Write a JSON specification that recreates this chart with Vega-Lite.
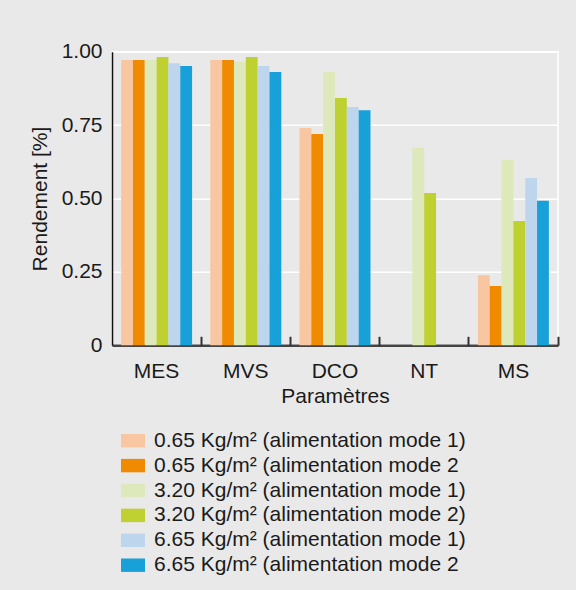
{
  "$schema": "https://vega.github.io/schema/vega-lite/v6.json",
  "autosize": "none",
  "width": 446,
  "height": 293.6,
  "padding": {"left": 112, "top": 51.7, "right": 18, "bottom": 244.7},
  "background": "#e9e9e9",
  "config": {
    "font": "Liberation Sans",
    "view": {"stroke": "#ffffff", "strokeWidth": 1.5, "fill": "#e9e9e9"}
  },
  "data": {
    "values": [
      {"param": "MES", "serie": "0.65 Kg/m² (alimentation mode 1)", "rendement": 0.972},
      {"param": "MES", "serie": "0.65 Kg/m² (alimentation mode 2", "rendement": 0.972},
      {"param": "MES", "serie": "3.20 Kg/m² (alimentation mode 1)", "rendement": 0.972},
      {"param": "MES", "serie": "3.20 Kg/m² (alimentation mode 2)", "rendement": 0.982},
      {"param": "MES", "serie": "6.65 Kg/m² (alimentation mode 1)", "rendement": 0.961},
      {"param": "MES", "serie": "6.65 Kg/m² (alimentation mode 2", "rendement": 0.951},
      {"param": "MVS", "serie": "0.65 Kg/m² (alimentation mode 1)", "rendement": 0.972},
      {"param": "MVS", "serie": "0.65 Kg/m² (alimentation mode 2", "rendement": 0.972},
      {"param": "MVS", "serie": "3.20 Kg/m² (alimentation mode 1)", "rendement": 0.966},
      {"param": "MVS", "serie": "3.20 Kg/m² (alimentation mode 2)", "rendement": 0.982},
      {"param": "MVS", "serie": "6.65 Kg/m² (alimentation mode 1)", "rendement": 0.951},
      {"param": "MVS", "serie": "6.65 Kg/m² (alimentation mode 2", "rendement": 0.931},
      {"param": "DCO", "serie": "0.65 Kg/m² (alimentation mode 1)", "rendement": 0.740},
      {"param": "DCO", "serie": "0.65 Kg/m² (alimentation mode 2", "rendement": 0.720},
      {"param": "DCO", "serie": "3.20 Kg/m² (alimentation mode 1)", "rendement": 0.931},
      {"param": "DCO", "serie": "3.20 Kg/m² (alimentation mode 2)", "rendement": 0.842},
      {"param": "DCO", "serie": "6.65 Kg/m² (alimentation mode 1)", "rendement": 0.812},
      {"param": "DCO", "serie": "6.65 Kg/m² (alimentation mode 2", "rendement": 0.801},
      {"param": "NT", "serie": "0.65 Kg/m² (alimentation mode 1)", "rendement": 0},
      {"param": "NT", "serie": "0.65 Kg/m² (alimentation mode 2", "rendement": 0},
      {"param": "NT", "serie": "3.20 Kg/m² (alimentation mode 1)", "rendement": 0.673},
      {"param": "NT", "serie": "3.20 Kg/m² (alimentation mode 2)", "rendement": 0.519},
      {"param": "NT", "serie": "6.65 Kg/m² (alimentation mode 1)", "rendement": 0},
      {"param": "NT", "serie": "6.65 Kg/m² (alimentation mode 2", "rendement": 0},
      {"param": "MS", "serie": "0.65 Kg/m² (alimentation mode 1)", "rendement": 0.239},
      {"param": "MS", "serie": "0.65 Kg/m² (alimentation mode 2", "rendement": 0.202},
      {"param": "MS", "serie": "3.20 Kg/m² (alimentation mode 1)", "rendement": 0.631},
      {"param": "MS", "serie": "3.20 Kg/m² (alimentation mode 2)", "rendement": 0.423},
      {"param": "MS", "serie": "6.65 Kg/m² (alimentation mode 1)", "rendement": 0.570},
      {"param": "MS", "serie": "6.65 Kg/m² (alimentation mode 2", "rendement": 0.492}
    ]
  },
  "encoding": {
    "x": {"field": "param", "type": "nominal", "sort": ["MES", "MVS", "DCO", "NT", "MS"],
      "scale": {"paddingInner": 0, "paddingOuter": 0}},
    "xOffset": {"field": "serie", "type": "nominal",
      "sort": ["0.65 Kg/m² (alimentation mode 1)", "0.65 Kg/m² (alimentation mode 2", "3.20 Kg/m² (alimentation mode 1)", "3.20 Kg/m² (alimentation mode 2)", "6.65 Kg/m² (alimentation mode 1)", "6.65 Kg/m² (alimentation mode 2"],
      "scale": {"paddingInner": 0, "paddingOuter": 0.77}},
    "y": {"field": "rendement", "type": "quantitative",
      "scale": {"domain": [0, 1], "nice": false},
      "axis": {
        "title": "Rendement [%]", "titleFontSize": 21, "titleFontWeight": "normal", "titleColor": "#1a1a1a", "titlePadding": 11,
        "values": [0, 0.25, 0.5, 0.75, 1],
        "labelExpr": "datum.value == 0 ? '0' : format(datum.value, '.2f')",
        "labelFontSize": 21, "labelColor": "#1a1a1a", "labelPadding": 10,
        "ticks": false, "domainColor": "#111111", "domainWidth": 1.5,
        "grid": true, "gridColor": "#ffffff", "gridWidth": 1.5
      }}
  },
  "layer": [
    {
      "mark": {"type": "bar"},
      "encoding": {
        "x": {"field": "param", "type": "nominal", "sort": ["MES", "MVS", "DCO", "NT", "MS"],
          "axis": {
            "orient": "bottom", "title": "Paramètres", "titleFontSize": 21, "titleFontWeight": "normal", "titleColor": "#1a1a1a", "titlePadding": 4,
            "labelAngle": 0, "labelFontSize": 21, "labelColor": "#1a1a1a", "labelPadding": 15,
            "ticks": false, "domainColor": "#444444", "domainWidth": 2.5, "grid": false
          }},
        "color": {"field": "serie", "type": "nominal",
          "scale": {
            "domain": ["0.65 Kg/m² (alimentation mode 1)", "0.65 Kg/m² (alimentation mode 2", "3.20 Kg/m² (alimentation mode 1)", "3.20 Kg/m² (alimentation mode 2)", "6.65 Kg/m² (alimentation mode 1)", "6.65 Kg/m² (alimentation mode 2"],
            "range": ["#f8c6a0", "#f08a00", "#dde9bb", "#bfd031", "#bdd6ed", "#18a0d8"]
          },
          "legend": {
            "orient": "none", "legendX": 9, "legendY": 377, "direction": "vertical",
            "title": null, "padding": 0,
            "symbolType": "M-1,-0.56H1V0.56H-1Z", "symbolSize": 576, "symbolStrokeWidth": 0, "symbolOpacity": 1,
            "labelFontSize": 21, "labelColor": "#1a1a1a", "labelOffset": 9, "labelLimit": 500,
            "rowPadding": 2.9
          }}
      }
    },
    {
      "mark": {"type": "bar", "opacity": 0},
      "encoding": {
        "x": {"field": "param", "type": "nominal", "sort": ["MES", "MVS", "DCO", "NT", "MS"],
          "axis": {
            "orient": "top", "offset": -293.6, "title": null, "labels": false, "domain": false, "grid": false,
            "ticks": true, "bandPosition": 1, "tickSize": 9, "tickColor": "#333333", "tickWidth": 2
          }}
      }
    }
  ],
  "resolve": {"axis": {"x": "independent"}}
}
